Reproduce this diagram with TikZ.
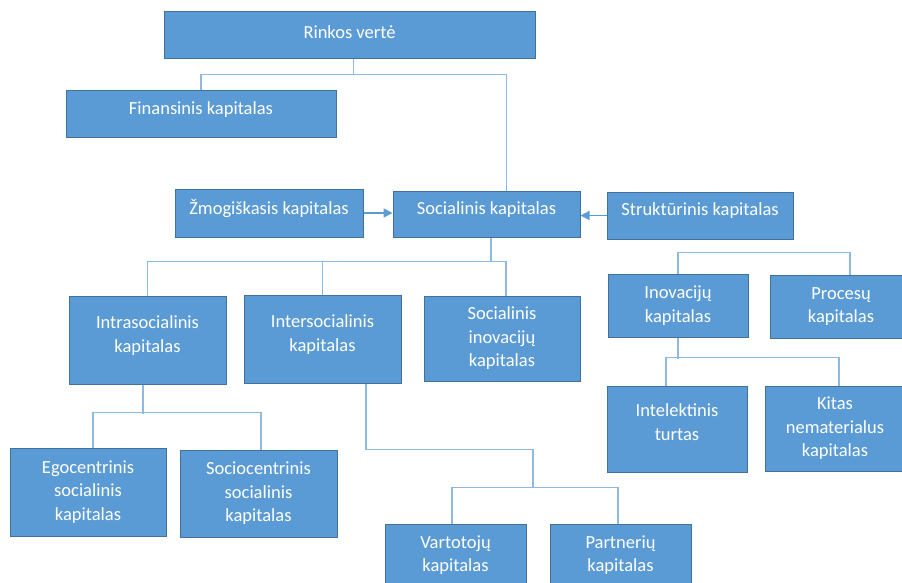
\documentclass[tikz,border=0pt]{standalone}
\usepackage{fontspec}
\setmainfont{Carlito}
\usepackage{tikz}
\usetikzlibrary{arrows.meta}
\definecolor{boxfill}{HTML}{5B9BD5}
\definecolor{boxline}{HTML}{41719C}
\definecolor{linkline}{HTML}{8DB9E4}
\definecolor{arrline}{HTML}{5B9BD5}

\begin{document}
\begin{tikzpicture}[x=1pt, y=-1pt,
  kbox/.style={draw=boxline, line width=1pt, fill=boxfill, text=white, inner sep=0pt,
    align=center, font=\fontsize{18.5}{23.5}\selectfont},
  kraise/.style={text depth=#1},
  kline/.style={draw=linkline, line width=1.6pt},
  karrow/.style={draw=arrline, line width=1.3pt, -{Triangle[length=9pt,width=9pt]}}]
\useasboundingbox (0,0) rectangle (902,583);
\node[kbox, kraise=7pt, minimum width=371pt, minimum height=47pt] (rinkos) at (349.5,35.5) {Rinkos vertė};
\node[kbox, kraise=12pt, minimum width=270pt, minimum height=47pt] (fin) at (201,114.5) {Finansinis kapitalas};
\node[kbox, kraise=12pt, minimum width=188pt, minimum height=48pt] (zmog) at (269,213) {Žmogiškasis kapitalas};
\node[kbox, kraise=12pt, minimum width=187pt, minimum height=46pt] (soc) at (486.5,214) {Socialinis kapitalas};
\node[kbox, kraise=12pt, minimum width=186pt, minimum height=47pt] (strukt) at (700,215.5) {Struktūrinis kapitalas};
\node[kbox, kraise=12pt, minimum width=157pt, minimum height=88pt] (intra) at (147.5,340) {Intrasocialinis\\kapitalas};
\node[kbox, kraise=12pt, minimum width=157pt, minimum height=88pt] (inter) at (322.5,339) {Intersocialinis\\kapitalas};
\node[kbox, minimum width=156pt, minimum height=85pt] (socinov) at (502,338.5) {Socialinis\\inovacijų\\kapitalas};
\node[kbox, minimum width=140pt, minimum height=63pt] (inov) at (678,305.5) {Inovacijų\\kapitalas};
\node[kbox, minimum width=142pt, minimum height=63pt] (proc) at (841,306.5) {Procesų\\kapitalas};
\node[kbox, kraise=14pt, minimum width=140pt, minimum height=86pt] (intel) at (677,429) {Intelektinis\\turtas};
\node[kbox, minimum width=140pt, minimum height=85pt] (kitas) at (835,428.5) {Kitas\\nematerialus\\kapitalas};
\node[kbox, minimum width=156pt, minimum height=88pt] (ego) at (88,492) {Egocentrinis\\socialinis\\kapitalas};
\node[kbox, minimum width=157pt, minimum height=87pt] (sociocen) at (258.5,493.5) {Sociocentrinis\\socialinis\\kapitalas};
\node[kbox, minimum width=141pt, minimum height=62pt] (vart) at (455.5,555) {Vartotojų\\kapitalas};
\node[kbox, minimum width=141pt, minimum height=62pt] (partn) at (620.5,555) {Partnerių\\kapitalas};
\coordinate (intermid) at (533,488);

\draw[kline] ([xshift=4pt]rinkos.south) -- ++(0,16);
\draw[kline] (fin.north) -- ++(0,-16) -| ([xshift=20pt]soc.north);
\draw[kline] ([xshift=4.5pt]soc.south) -- ++(0,24);
\draw[kline] (intra.north) -- ++(0,-34) -| ([xshift=4pt]socinov.north);
\draw[kline] (inter.north) -- ++(0,-33);
\draw[kline] (inov.north) -- ++(0,-21) -| ([xshift=9pt]proc.north);
\draw[kline] (inov.south) -- ++(0,21);
\draw[kline] ([xshift=-11pt]intel.north) -- ++(0,-28) -| ([xshift=4pt]kitas.north);
\draw[kline] ([xshift=-4.5pt]intra.south) -- ++(0,29);
\draw[kline] ([xshift=5pt]ego.north) -- ++(0,-35) -| ([xshift=2.5pt]sociocen.north);
\draw[kline] ([xshift=43.5pt]inter.south) -- ++(0,66) -| (intermid);
\draw[kline] ([xshift=-3.5pt]vart.north) -- ++(0,-36) -| ([xshift=-2.5pt]partn.north);
\draw[karrow] (zmog.east) -- (zmog.east -| soc.west);
\draw[karrow] (strukt.west) -- (strukt.west -| soc.east);
\end{tikzpicture}
\end{document}
